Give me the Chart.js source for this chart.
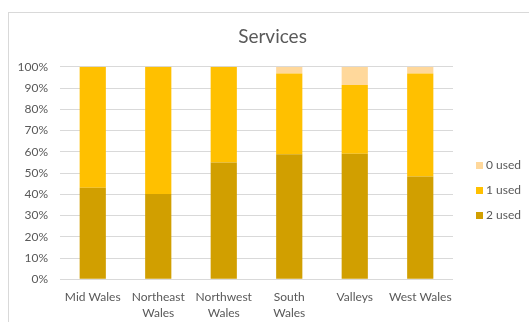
<!DOCTYPE html>
<html>
<head>
<meta charset="utf-8">
<script src="https://cdn.jsdelivr.net/npm/chart.js@4.4.0/dist/chart.umd.min.js"></script>
<style>
  html, body { margin: 0; padding: 0; background: #fff; overflow: hidden; }
  #moldura { position: absolute; left: 8px; top: 12px; width: 540px; height: 330px; border: 1px solid #d9d9d9; box-sizing: border-box; }
  #wrap { position: absolute; left: 8px; top: 0; width: 529px; height: 322px; }
</style>
</head>
<body>
<div id="moldura"></div>
<div id="wrap"><canvas id="grafico"></canvas></div>
<script>
// Serviços usados por região (percentagens)
const regioes = [['Mid Wales'], ['Northeast', 'Wales'], ['Northwest', 'Wales'], ['South', 'Wales'], ['Valleys'], ['West Wales']];
const usados2 = [43.1, 40.1, 55.0, 58.8, 59.1, 48.4];
const usados1 = [56.9, 59.9, 45.0, 38.1, 32.3, 48.5];
const usados0 = [0, 0, 0, 3.1, 8.6, 3.1];

const corTexto = '#595959';
const fonte = 'Lato, "Open Sans", sans-serif';

// Legenda desenhada à direita da área do gráfico
const legendaDireita = {
    id: 'legendaDireita',
    afterDraw(chart) {
        const ctx = chart.ctx;
        const itens = chart.data.datasets.slice().reverse();
        ctx.save();
        ctx.font = '12px ' + fonte;
        ctx.textBaseline = 'middle';
        itens.forEach(function(ds, i) {
            const y = 165.5 + i * 25;
            ctx.fillStyle = ds.backgroundColor;
            ctx.fillRect(468, y - 3.5, 7, 7);
            ctx.fillStyle = corTexto;
            ctx.fillText(ds.label, 478, y);
        });
        ctx.restore();
    }
};

const config = {
    type: 'bar',
    data: {
        labels: regioes,
        datasets: [
            { label: '2 used', data: usados2, backgroundColor: '#d19f00' },
            { label: '1 used', data: usados1, backgroundColor: '#ffc000' },
            { label: '0 used', data: usados0, backgroundColor: '#ffd89b' }
        ]
    },
    options: {
        responsive: true,
        maintainAspectRatio: false,
        animation: false,
        layout: { padding: 0 },
        datasets: { bar: { categoryPercentage: 1, barPercentage: 0.4 } },
        plugins: {
            legend: { display: false },
            tooltip: { enabled: false },
            title: {
                display: true,
                text: 'Services',
                color: corTexto,
                font: { family: fonte, size: 19, weight: 'normal' },
                padding: { top: 25, bottom: 19 }
            }
        },
        scales: {
            x: {
                stacked: true,
                grid: { display: false, drawTicks: false },
                border: { display: false },
                ticks: {
                    color: corTexto,
                    font: { family: fonte, size: 12, lineHeight: 1.35 },
                    padding: 10,
                    maxRotation: 0,
                    autoSkip: false
                },
                afterFit: function(scale) { scale.height = 42.7; }
            },
            y: {
                stacked: true,
                min: 0,
                max: 100,
                grid: { color: '#d9d9d9', drawTicks: false },
                border: { display: false },
                ticks: {
                    stepSize: 10,
                    color: corTexto,
                    font: { family: fonte, size: 12 },
                    padding: 12,
                    callback: function(v) { return v + '%'; }
                },
                afterFit: function(scale) { scale.width = 52; }
            },
            // espaço reservado para a legenda
            lado: {
                type: 'linear',
                position: 'right',
                grid: { display: false, drawTicks: false },
                border: { display: false },
                ticks: { display: false },
                afterFit: function(scale) { scale.width = 84; }
            }
        }
    },
    plugins: [legendaDireita]
};

window.onload = function() {
    new Chart(document.getElementById('grafico'), config);
};
</script>
</body>
</html>
